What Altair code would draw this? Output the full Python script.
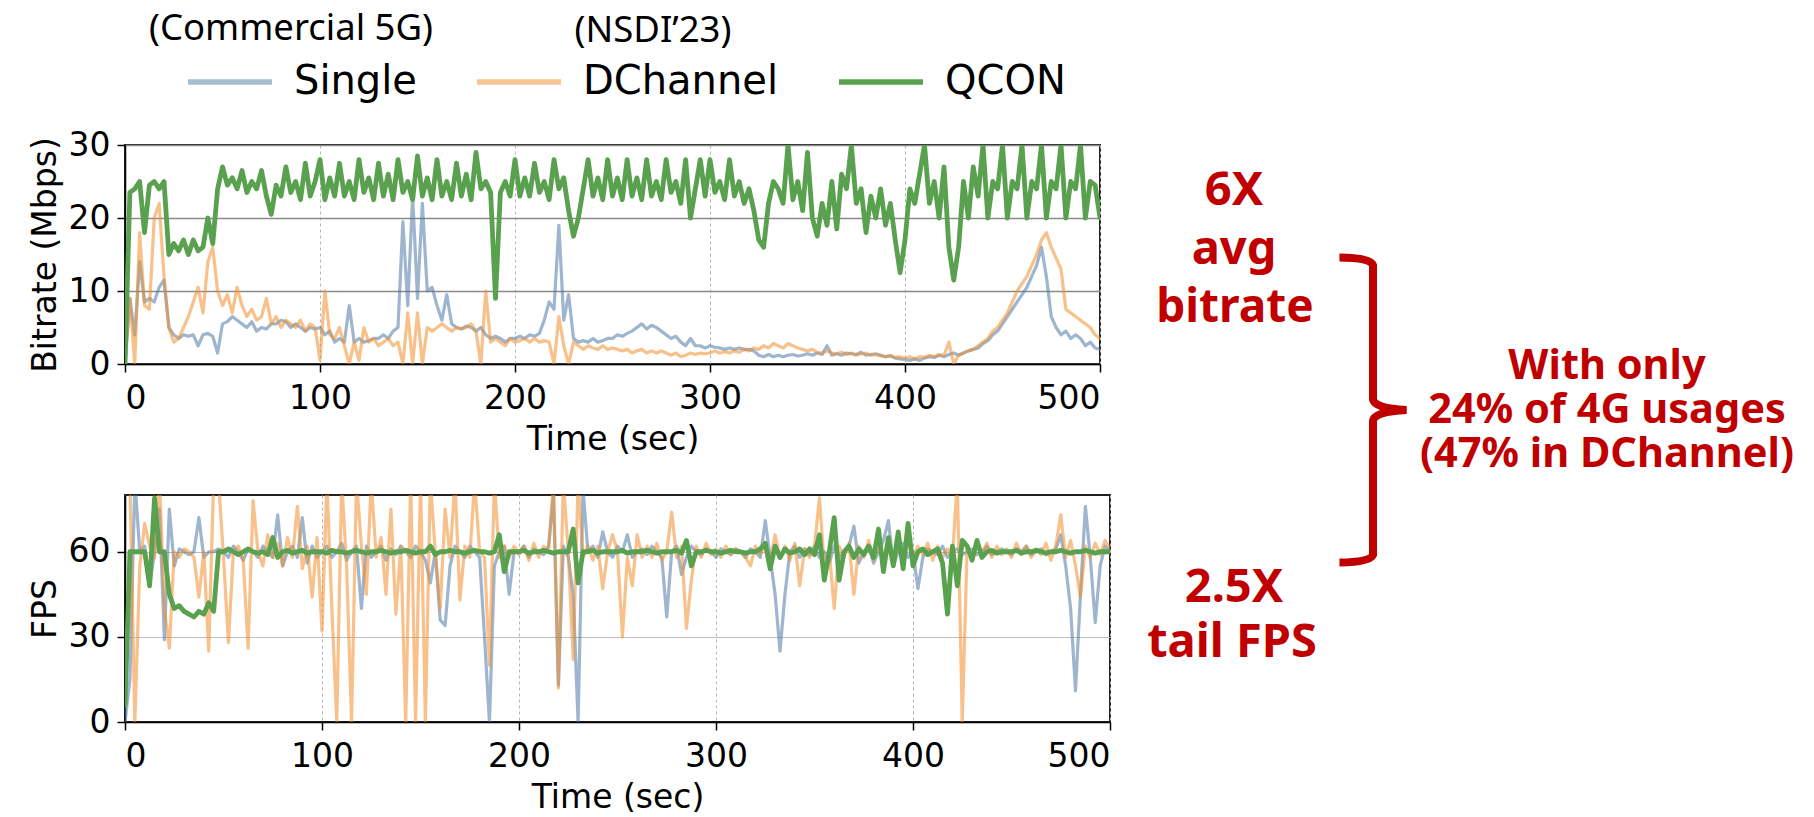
import altair as alt
import pandas as pd

# ---------------- data ----------------
TIME = [i * 2.5 for i in range(201)]          # seconds
SERIES = ["Single", "DChannel", "QCON"]
COLORS = ["#4e79a7", "#f28e2b", "#59a14f"]          # line colours
LEGEND_COLORS = ["#a6bcd3", "#f8c695", "#59a14f"]   # as they look at the lines' opacity
OPACITIES = [0.55, 0.55, 1.0]
WIDTHS = [3.2, 3.2, 4.8]

BR_SINGLE = [
    0, 9, 4, 14, 8.5, 9, 8.5, 10.5, 11.5, 5, 4, 3.5, 4, 3.8, 4, 2.5, 4, 4.2, 3.8, 1.5,
    5.5, 5.8, 6.5, 6, 5.5, 5, 5.8, 4.5, 5, 4.8, 5.5, 5.5, 6, 5.8, 5, 5.5, 5, 4.5, 5, 4.8,
    5, 4, 4.5, 3, 3.5, 3, 8, 3, 3.5, 3, 3.2, 3.5, 3.5, 4, 3.5, 4.5, 5, 19.5, 8, 23,
    9, 22, 10, 10.5, 8, 6, 9.5, 5.5, 5, 4.8, 5.2, 5, 4.5, 5, 4, 3.5, 3.8, 3.5, 3, 3.5,
    3.5, 3.8, 3.5, 4, 3.8, 4.2, 6, 8.5, 7.5, 19, 6, 9.5, 3.5, 3, 3.2, 3, 3.5, 3, 3.2, 3.5,
    3.5, 4, 3.8, 4.2, 4.5, 5, 5.5, 4.8, 5.3, 5, 4.5, 4, 3.5, 3.8, 3, 2.5, 3.5, 2.5, 2.5, 2.2,
    2.5, 2.3, 2.2, 2, 2.2, 2, 2.2, 2, 2, 1.8, 1.2, 1, 1.3, 1, 1.2, 1, 1.2, 1.3, 1.1, 1.2,
    1.4, 1.2, 1.5, 1.3, 2.5, 1.2, 1.4, 1.2, 1.5, 1.4, 1.3, 1.6, 1.2, 1.3, 1.4, 1.2, 1, 1.1, 0.8, 0.7,
    0.6, 0.5, 0.7, 0.5, 0.8, 1, 0.9, 1.2, 1, 1.3, 1.5, 1.2, 1.5, 1.8, 2, 2.2, 2.8, 3.2, 4, 4.5,
    5.5, 6.5, 7.5, 8.5, 9.5, 10.5, 12, 13.5, 16, 12, 6.5, 5, 4, 4.5, 3.5, 4, 3.5, 2.5, 3, 2.2,
    2,
]
BR_DCHANNEL = [
    0, 9, 0, 18, 8, 7.5, 20, 22, 12, 5, 3, 3.5, 5, 6.5, 8.5, 10.5, 7, 14, 16, 10,
    8, 9.5, 7, 10.5, 8, 6.5, 7.5, 6, 6.5, 9, 5.5, 6.5, 5, 6, 5.5, 5, 6, 4.5, 5.5, 5,
    0.5, 10, 4, 3.5, 5, 2.5, 0, 3, 0.5, 5, 3, 3.5, 2.5, 3, 3.5, 2.5, 3, 0, 7, 0,
    7, 0, 5, 4.5, 5, 5.5, 5, 4.5, 5, 4.8, 5, 5.5, 4.5, 0, 10, 3, 3.5, 3, 2.5, 3.5,
    3, 3.2, 3.5, 3, 3.5, 3, 3.2, 3, 0, 6.5, 2.5, 0, 3, 2.5, 2, 2.5, 2.2, 2, 2.5, 2,
    2.2, 2, 1.8, 2, 1.5, 1.8, 2, 1.5, 1.8, 1.5, 1.8, 1.5, 1.2, 1.5, 1, 1.2, 1.5, 1.3, 1.5, 1.4,
    1.5, 1.8, 1.5, 1.7, 1.5, 1.8, 1.6, 2, 1.8, 2.2, 2, 2.5, 2.2, 2.8, 2.5, 2.2, 2.8, 2.5, 2.2, 2,
    1.8, 2, 1.6, 1.5, 1.8, 1.5, 1.4, 1.6, 1.3, 1.5, 1.2, 1.4, 1.5, 1.2, 1.3, 1.1, 1, 1.2, 0.9, 1,
    0.8, 1, 0.7, 1, 0.9, 1.2, 1, 1.3, 1.2, 3, 0, 1.2, 1.5, 1.8, 2, 2.5, 3, 3.5, 4.5, 5,
    6, 7, 8.5, 10, 11, 12, 13.5, 15, 17, 18, 16, 14.5, 13, 7.5, 7, 6.5, 6, 5.5, 5, 4,
    3.5,
]
BR_QCON = [
    0, 23.5, 24, 25, 18, 24.5, 25, 24, 25, 15, 16.5, 15.5, 17, 15, 17, 15.5, 16, 20, 16.5, 24,
    27, 24.5, 25.5, 24, 26.5, 23.5, 25, 24, 26.5, 23, 20.5, 24.5, 23, 27, 23.5, 25, 22.5, 27.5, 23, 25,
    28, 22.5, 25.5, 23, 27.5, 23, 25, 22.5, 28, 23.5, 25.5, 22.5, 27.5, 23, 26, 22.5, 28, 23.5, 25, 22.5,
    28.5, 23, 25.5, 22.5, 28, 23, 25, 22.5, 27.5, 23, 26, 22.5, 29, 24, 25, 23.5, 9, 23.5, 25, 23,
    28, 23, 25.5, 23, 27.5, 23.5, 25, 22.5, 28, 24, 25.5, 21, 17.5, 20, 24, 28, 23, 25.5, 22.5, 28,
    23, 25.5, 22.5, 28, 23, 25.5, 22.5, 28, 23, 25, 22.5, 28, 23.5, 25, 22, 28, 20, 24, 28, 23,
    28, 23.5, 25, 22.5, 28, 23, 25, 22, 24, 21, 17, 16, 22, 25, 24, 22, 30, 22.5, 25, 21,
    29, 20, 17.5, 22, 19, 25, 18.5, 26, 24, 30, 22, 24, 18, 23, 20, 24, 19, 22, 17, 12.5,
    17, 24, 22, 26, 30, 22, 25, 20, 27, 16, 11.5, 16, 25, 20, 27, 23, 30, 20, 25, 24,
    30, 20, 25, 24, 30, 20, 25, 24, 30, 20, 25, 24, 30, 20, 25, 24, 30, 20, 25, 24.5,
    20,
]
FPS_SINGLE = [
    0, 15, 85, 60, 62, 48, 60, 75, 29, 75, 55, 61, 60, 59, 60, 72, 58, 60, 60, 61,
    60, 58, 62, 60, 57, 61, 60, 58, 62, 60, 58, 73, 55, 60, 62, 58, 72, 56, 62, 58,
    60, 62, 58, 60, 63, 57, 60, 62, 40, 62, 58, 60, 62, 57, 61, 59, 62, 60, 58, 62,
    60, 57, 49, 60, 36, 34, 55, 62, 60, 58, 62, 60, 58, 30, 0, 55, 60, 62, 45, 60,
    60, 62, 58, 61, 60, 59, 62, 80, 13, 62, 58, 45, 0, 82, 60, 62, 58, 67, 60, 58,
    62, 60, 66, 58, 60, 61, 59, 62, 60, 58, 37, 60, 62, 52, 58, 62, 60, 59, 61, 60,
    58, 61, 60, 59, 61, 60, 58, 61, 60, 58, 71, 58, 45, 25, 45, 60, 62, 58, 61, 59,
    62, 58, 60, 56, 62, 58, 60, 62, 69, 56, 60, 62, 56, 60, 64, 71, 55, 60, 63, 58,
    60, 47, 58, 61, 60, 59, 62, 58, 60, 61, 59, 60, 61, 59, 60, 62, 59, 60, 61, 60,
    59, 61, 60, 62, 59, 60, 61, 59, 60, 61, 66, 55, 40, 11, 45, 76, 58, 35, 55, 62,
    60,
]
FPS_DCHANNEL = [
    85, 85, 0, 55, 70, 62, 58, 85, 40, 26, 60, 58, 61, 60, 58, 44, 60, 25, 85, 85,
    58, 28, 60, 62, 57, 26, 78, 60, 55, 66, 58, 63, 55, 65, 58, 76, 54, 62, 44, 65,
    32, 85, 40, 0, 85, 55, 0, 85, 62, 45, 85, 58, 65, 45, 75, 38, 62, 0, 85, 0,
    85, 0, 85, 60, 40, 75, 58, 85, 43, 62, 58, 85, 60, 58, 20, 85, 58, 62, 58, 62,
    59, 62, 57, 63, 58, 62, 60, 85, 12, 85, 60, 22, 85, 58, 62, 57, 62, 47, 60, 66,
    60, 30, 58, 48, 66, 58, 62, 58, 63, 57, 60, 74, 58, 62, 33, 50, 62, 58, 63, 59,
    61, 58, 62, 59, 61, 60, 58, 55, 62, 59, 63, 57, 66, 58, 62, 57, 63, 48, 61, 58,
    62, 79, 55, 60, 40, 62, 58, 63, 45, 62, 58, 64, 57, 62, 58, 64, 56, 62, 58, 63,
    58, 62, 59, 63, 57, 62, 58, 61, 58, 85, 0, 62, 58, 62, 59, 63, 58, 62, 59, 61,
    58, 63, 59, 62, 58, 61, 59, 63, 57, 62, 73, 58, 64, 55, 44, 62, 58, 63, 59, 64,
    61,
]
FPS_QCON = [
    6, 60, 60, 60, 60, 48, 79, 60, 60, 45, 40, 41, 39, 38, 37, 39, 38, 42, 39, 60,
    60, 61, 60, 59, 60, 61, 60, 59.5, 60, 59, 65, 58, 60, 60.5, 59.5, 60, 60.5, 59.5, 60, 60,
    60, 59.5, 60.5, 60, 60, 59.5, 60, 60.5, 60, 59.5, 60, 60, 60.5, 60, 59.5, 60, 60, 60.5, 60, 59.5,
    60, 60, 62, 59, 60, 60, 60.5, 60, 60, 59.5, 60, 60.5, 60, 60, 59.5, 60, 66, 53, 60, 60,
    60, 60.5, 59.5, 60, 60, 60.5, 60, 59.5, 60, 60, 60, 68, 49, 60, 60, 60.5, 59.5, 60, 60, 60,
    60, 60.5, 59.5, 60, 60, 60, 60.5, 60, 59.5, 60, 60, 60, 60.5, 59.5, 64, 55, 60, 60, 60.5, 60,
    60, 59.5, 60, 60.5, 60, 60, 59.5, 60, 60, 61, 63, 54, 62, 58, 61, 59.5, 60, 61, 59, 61,
    59, 66, 50, 60, 72, 50, 60, 62, 58, 61, 59, 62, 58, 68, 53, 65, 55, 67, 54, 70,
    55, 60, 61, 59, 60, 61, 56, 38, 62, 48, 64, 62, 57, 64, 58, 60, 60.5, 59.5, 60, 60,
    60, 60.5, 59.5, 60, 60, 60.5, 60, 59.5, 60, 60, 60.5, 60, 59.5, 60, 60, 60.5, 60, 59.5, 60, 60,
    60,
]

X_TICKS = [0, 100, 200, 300, 400, 500]
BR_TICKS = [0, 10, 20, 30]
FPS_TICKS = [0, 30, 60]


def long_form(series_values):
    rows = []
    for name, vals in zip(SERIES, series_values):
        for t, v in zip(TIME, vals):
            rows.append({"t": t, "v": v, "series": name})
    return pd.DataFrame(rows)


br_df = long_form([BR_SINGLE, BR_DCHANNEL, BR_QCON])
fps_df = long_form([FPS_SINGLE, FPS_DCHANNEL, FPS_QCON])

# ---------------- styling ----------------
RED = "#C00000"
AX_FONT = "DejaVu Sans"
stroke_scale = alt.Scale(domain=SERIES, range=COLORS)
legend_scale = alt.Scale(domain=SERIES, range=LEGEND_COLORS)

legend = alt.Legend(
    orient="none", legendX=60, legendY=-108, direction="horizontal", title=None,
    symbolType="stroke", symbolSize=7056, symbolStrokeWidth=5.5,
    labelFont=AX_FONT, labelFontSize=40, labelColor="black", labelLimit=0,
    labelOffset=19, columnPadding=49, padding=0,
)


def x_enc():
    return alt.X(
        "t:Q", scale=alt.Scale(domain=[0, 500], nice=False),
        axis=alt.Axis(values=X_TICKS, title="Time (sec)", grid=True,
                      gridDash=[3, 3], gridColor="#b5b5b5", gridWidth=1,
                      labelPadding=10, titlePadding=8, format="d"),
    )


def line_layers(df, y, with_legend):
    layers = []
    if with_legend:
        # key-only layer: its copy of the lines is pushed far below the
        # view and clipped away, so it only carries the legend
        layers.append(
            alt.Chart(df).transform_calculate(v="-1000")
            .mark_line(clip=True)
            .encode(x=x_enc(), y=y,
                    color=alt.Color("series:N", scale=legend_scale, legend=legend))
        )
    for s, op, w in zip(SERIES, OPACITIES, WIDTHS):
        layers.append(
            alt.Chart(df).transform_filter(alt.datum.series == s)
            .mark_line(clip=True, strokeJoin="round", strokeCap="round",
                       opacity=op, strokeWidth=w)
            .encode(x=x_enc(), y=y,
                    stroke=alt.Stroke("series:N", scale=stroke_scale, legend=None))
        )
    return layers


one = alt.Chart(pd.DataFrame({"k": [0]}))


def note(text, x, y, size, color="black", weight="normal", font="Noto Sans"):
    return one.mark_text(
        text=text, fontSize=size, font=font, fontWeight=weight, color=color,
        align="center", baseline="alphabetic",
    ).encode(x=alt.value(x), y=alt.value(y))


BRACE = ("M -0.22 -1 Q -0.02 -1 0 -0.95 L 0 -0.07 Q 0.01 -0.01 0.22 0 "
         "Q 0.01 0.01 0 0.07 L 0 0.95 Q -0.02 1 -0.22 1")

DX = 4
annotations = [
    note("(Commercial 5G)", 162 + DX, -105, 36.5),
    note("(NSDI\u201923)", 524 + DX, -103, 36.5),
    note("6X", 1105 + DX, 60, 47, RED, "bold"),
    note("avg", 1105 + DX, 119, 47, RED, "bold"),
    note("bitrate", 1106 + DX, 177, 46, RED, "bold"),
    note("2.5X", 1105 + DX, 457, 47, RED, "bold"),
    note("tail FPS", 1103 + DX, 512, 47, RED, "bold"),
    note("With only", 1478 + DX, 234, 41.5, RED, "bold"),
    note("24% of 4G usages", 1478 + DX, 278, 41.5, RED, "bold"),
    note("(47% in DChannel)", 1478 + DX, 322, 41.5, RED, "bold"),
    one.mark_point(shape=BRACE, filled=False, stroke=RED, strokeWidth=8,
                   opacity=1, size=93025)
    .encode(x=alt.value(1244 + DX), y=alt.value(265)),
]

y_br = alt.Y("v:Q", scale=alt.Scale(domain=[0, 30], nice=False),
             axis=alt.Axis(values=BR_TICKS, title="Bitrate (Mbps)", grid=True,
                           gridColor="#8a8a8a", gridWidth=1.5,
                           labelPadding=7, titlePadding=6))
y_fps = alt.Y("v:Q", scale=alt.Scale(domain=[0, 80], nice=False),
              axis=alt.Axis(values=FPS_TICKS, title="FPS", grid=True,
                            gridColor="#bdbdbd", gridWidth=1.2,
                            labelPadding=7, titlePadding=6))

top = alt.layer(*line_layers(br_df, y_br, True), *annotations).properties(
    width=975, height=219)
bottom = alt.layer(*line_layers(fps_df, y_fps, False)).properties(
    width=985, height=227)

chart = (
    alt.vconcat(top, bottom, spacing=131, bounds="flush")
    .resolve_scale(stroke="independent", color="independent")
    .properties(padding={"left": 28, "top": 10, "right": 0, "bottom": 0},
                background="white")
    .configure_view(stroke="#222222", strokeWidth=2)
    .configure_axis(
        labelFont=AX_FONT, labelFontSize=33, titleFont=AX_FONT, titleFontSize=33,
        titleFontWeight="normal", labelColor="black", titleColor="black",
        tickColor="black", domainColor="black", tickSize=8, tickWidth=1.5,
        domainWidth=1.5,
    )
)

chart.save("out.html", embed_options={"renderer": "svg", "actions": False})
